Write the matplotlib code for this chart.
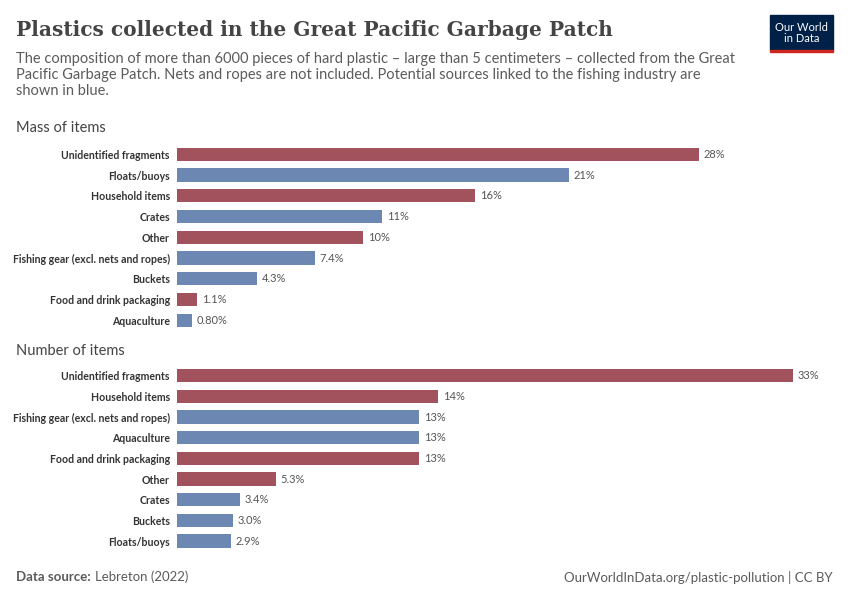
import matplotlib.pyplot as plt
from matplotlib.patches import Rectangle

plt.rcParams['font.family'] = ['Lato', 'DejaVu Sans']

RED = '#a2525d'
BLUE = '#6c87b1'

mass_labels = ['Unidentified fragments', 'Floats/buoys', 'Household items', 'Crates', 'Other',
               'Fishing gear (excl. nets and ropes)', 'Buckets', 'Food and drink packaging', 'Aquaculture']
mass_values = [28, 21, 16, 11, 10, 7.4, 4.3, 1.1, 0.80]
mass_text = ['28%', '21%', '16%', '11%', '10%', '7.4%', '4.3%', '1.1%', '0.80%']
mass_fishing = [False, True, False, True, False, True, True, False, True]

num_labels = ['Unidentified fragments', 'Household items', 'Fishing gear (excl. nets and ropes)', 'Aquaculture',
              'Food and drink packaging', 'Other', 'Crates', 'Buckets', 'Floats/buoys']
num_values = [33, 14, 13, 13, 13, 5.3, 3.4, 3.0, 2.9]
num_text = ['33%', '14%', '13%', '13%', '13%', '5.3%', '3.4%', '3.0%', '2.9%']
num_fishing = [False, False, True, True, False, False, True, True, True]

fig = plt.figure(figsize=(8.5, 6), dpi=100)


def panel(rect, labels, values, texts, fishing):
    ax = fig.add_axes(rect)
    ys = range(len(labels))
    colors = [BLUE if f else RED for f in fishing]
    ax.barh(ys, values, height=0.64, color=colors)
    for y, v, t in zip(ys, values, texts):
        ax.text(v + 0.25, y, t, va='center', ha='left', fontsize=8, color='#555555')
    ax.set_yticks(list(ys))
    ax.set_yticklabels(labels, fontsize=7.6, color='#333333', fontweight='bold')
    ax.tick_params(axis='y', length=0, pad=5)
    ax.set_xticks([])
    ax.set_xlim(0, 35.8)
    ax.set_ylim(len(labels) - 0.5, -0.5)
    for s in ax.spines.values():
        s.set_visible(False)
    ax.patch.set_alpha(0)
    return ax


panel([0.208, 0.449, 0.786, 0.311], mass_labels, mass_values, mass_text, mass_fishing)
panel([0.208, 0.081, 0.786, 0.310], num_labels, num_values, num_text, num_fishing)

fig.text(16 / 850, 1 - 30 / 600, 'Plastics collected in the Great Pacific Garbage Patch',
         family='DejaVu Serif', fontsize=14.5, fontweight='bold', color='#444444', va='center')
fig.text(16 / 850, 1 - 52 / 600,
         'The composition of more than 6000 pieces of hard plastic – large than 5 centimeters – collected from the Great\n'
         'Pacific Garbage Patch. Nets and ropes are not included. Potential sources linked to the fishing industry are\n'
         'shown in blue.',
         fontsize=10.5, color='#5b5b5b', va='top', linespacing=1.2)
fig.text(16 / 850, 1 - 128 / 600, 'Mass of items', fontsize=10.5, color='#444444', va='center')
fig.text(16 / 850, 1 - 351 / 600, 'Number of items', fontsize=10.5, color='#444444', va='center')

fig.text(16 / 850, 1 - 577 / 600, 'Data source: ', fontsize=9.5, color='#5b5b5b', va='center', fontweight='bold')
fig.text(95 / 850, 1 - 577 / 600, 'Lebreton (2022)', fontsize=9.5, color='#5b5b5b', va='center')
fig.text(833 / 850, 1 - 577 / 600, 'OurWorldInData.org/plastic-pollution | CC BY', fontsize=9.5,
         color='#5b5b5b', va='center', ha='right')

# logo
fig.patches.append(Rectangle((770 / 850, 1 - 50 / 600), 63 / 850, 35 / 600, transform=fig.transFigure,
                             color='#002147'))
fig.patches.append(Rectangle((770 / 850, 1 - 52 / 600), 63 / 850, 2.5 / 600, transform=fig.transFigure,
                             color='#ce261e'))
fig.text(801.5 / 850, 1 - 33 / 600, 'Our World\nin Data', fontsize=8, color='white', ha='center',
         va='center', linespacing=1.0)

fig.savefig('out.png', dpi=100)
